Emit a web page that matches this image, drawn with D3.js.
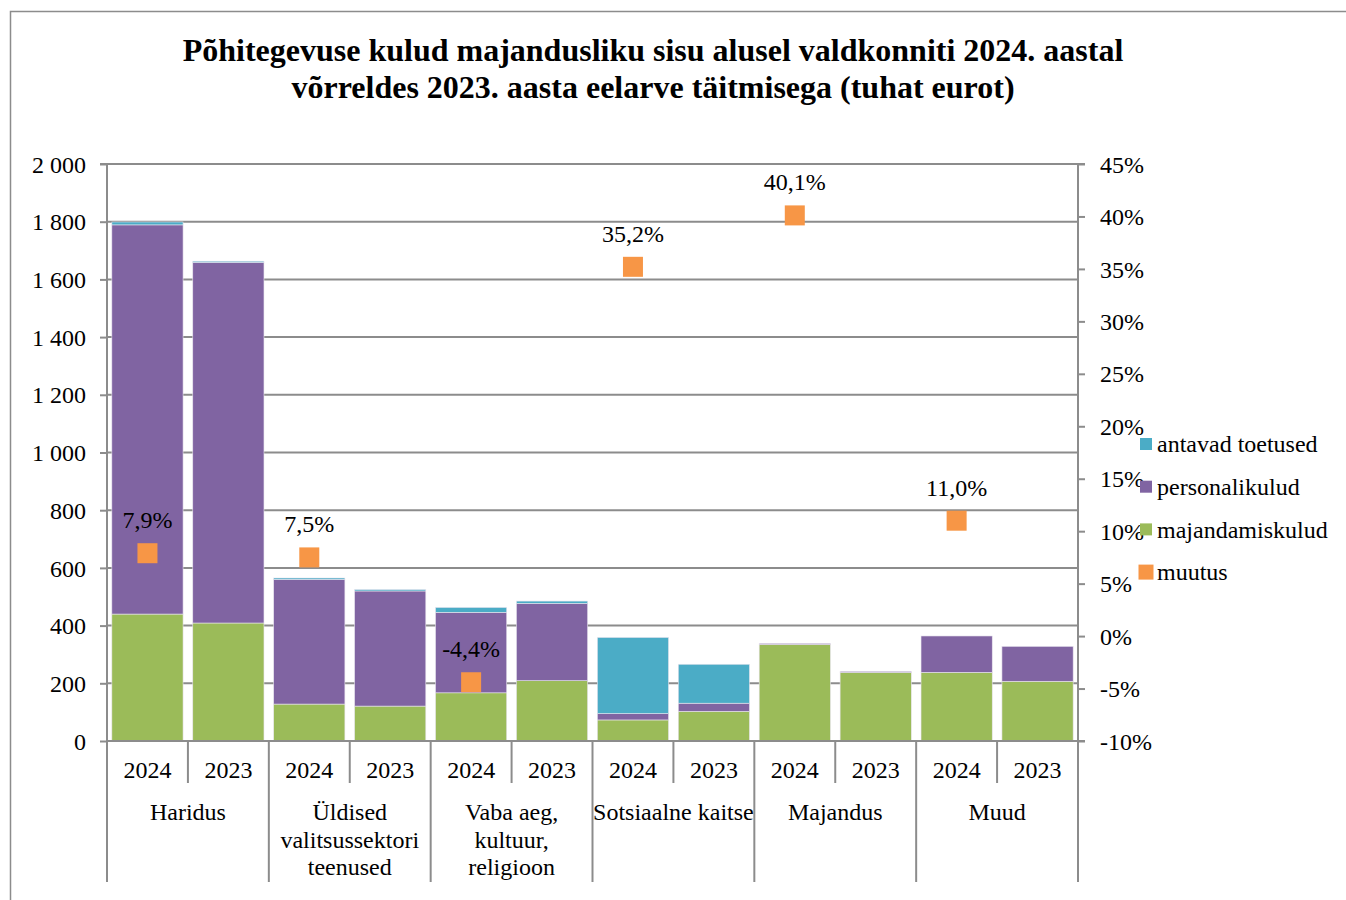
<!DOCTYPE html>
<html><head><meta charset="utf-8">
<script src="https://cdn.jsdelivr.net/npm/d3@7"></script>
<style>body{margin:0;background:#fff}svg{display:block}text{font-family:"Liberation Serif","Times New Roman",serif;fill:#000}</style>
</head><body><svg id="c" width="1346" height="900"></svg>
<script>
const groups = ["Haridus","Üldised valitsussektori teenused","Vaba aeg, kultuur, religioon","Sotsiaalne kaitse","Majandus","Muud"];
const groupLines = [["Haridus"],["Üldised","valitsussektori","teenused"],["Vaba aeg,","kultuur,","religioon"],["Sotsiaalne kaitse"],["Majandus"],["Muud"]];
const years = ["2024","2023"];
// order: per group [2024, 2023]
const majandamiskulud = [440,409, 128,121, 167,209, 73,103, 335,238, 238,207];
const personalikulud  = [1349,1250, 432,399, 279,268, 22,28, 3,3, 126,121];
const antavadToetused = [10,4, 5,5, 17,8, 264,135, 0,0, 0,0];
const muutus = [7.9, 7.5, -4.4, 35.2, 40.1, 11.0];
const leftTicks = [0,200,400,600,800,1000,1200,1400,1600,1800,2000];
const rightTicks = [-10,-5,0,5,10,15,20,25,30,35,40,45];
const seriesNames = ["antavad toetused","personalikulud","majandamiskulud","muutus"];
const colors = {"majandamiskulud":"#9BBB59","personalikulud":"#8064A2","antavad toetused":"#4BACC6","muutus":"#F79646"};

const FS = 24;
const svg = d3.select("#c");
const L=107, R=1078, T=164, B=741;
// frame
svg.append("rect").attr("x",10.5).attr("y",11.5).attr("width",1345).attr("height",900).attr("fill","none").attr("stroke","#8c8c8c").attr("stroke-width",1.5);
// title
const title = svg.append("text").attr("text-anchor","middle").attr("font-weight","bold").attr("font-size",32);
title.append("tspan").attr("x",653).attr("y",61).text("Põhitegevuse kulud majandusliku sisu alusel valdkonniti 2024. aastal");
title.append("tspan").attr("x",653).attr("y",98).text("võrreldes 2023. aasta eelarve täitmisega (tuhat eurot)");

const bars = [];
groups.forEach((g,gi)=>years.forEach((yr,yi)=>bars.push({g,gi,yr,i:gi*2+yi})));
const x = d3.scaleBand().domain(bars.map(d=>d.i)).range([L,R]).paddingInner(0.12).paddingOuter(0.06);
const xg = d3.scaleBand().domain(groups).range([L,R]);
const y = d3.scaleLinear().domain([0,2000]).range([B,T]);
const y2 = d3.scaleLinear().domain([-10,45]).range([B,T]);

// gridlines
svg.append("g").selectAll("line").data(leftTicks.slice(1)).join("line")
  .attr("x1",L).attr("x2",R).attr("y1",d=>y(d)).attr("y2",d=>y(d)).attr("stroke","#8c8c8c").attr("stroke-width",2);

// stacked bars
const stackData = bars.map(d=>({i:d.i,"majandamiskulud":majandamiskulud[d.i],"personalikulud":personalikulud[d.i],"antavad toetused":antavadToetused[d.i]}));
const stack = d3.stack().keys(["majandamiskulud","personalikulud","antavad toetused"])(stackData);
svg.append("g").selectAll("g").data(stack).join("g").attr("fill",s=>colors[s.key])
  .selectAll("rect").data(s=>s).join("rect")
  .attr("x",d=>x(d.data.i)).attr("width",x.bandwidth())
  .attr("y",d=>y(d[1])).attr("height",d=>Math.max(0,y(d[0])-y(d[1])))
  .attr("stroke","#e8e4ee").attr("stroke-width",0.6);

// left axis
const la = svg.append("g").attr("transform",`translate(${L},0)`)
  .call(d3.axisLeft(y).tickValues(leftTicks).tickSize(7).tickPadding(14).tickFormat(d=>d3.format(",")(d).replace(/,/g," ")));
la.select(".domain").attr("stroke","#8c8c8c").attr("stroke-width",2).attr("d",`M-7,${T}H0V${B}`);
la.selectAll(".tick line").attr("stroke","#8c8c8c").attr("stroke-width",2);
la.selectAll(".tick text").attr("font-size",FS).attr("font-family","Liberation Serif, serif").attr("fill","#000").attr("dy","0.34em");

// right axis
const ra = svg.append("g").attr("transform",`translate(${R},0)`)
  .call(d3.axisRight(y2).tickValues(rightTicks).tickSize(7).tickPadding(15).tickFormat(d=>String(d)+"%"));
ra.select(".domain").attr("stroke","#8c8c8c").attr("stroke-width",2).attr("d",`M7,${T}H0V${B}H7`);
ra.selectAll(".tick line").attr("stroke","#8c8c8c").attr("stroke-width",2);
ra.selectAll(".tick text").attr("font-size",FS).attr("font-family","Liberation Serif, serif").attr("fill","#000").attr("dy","0.34em");

// bottom baseline
svg.append("line").attr("x1",L).attr("x2",R).attr("y1",B).attr("y2",B).attr("stroke","#8c8c8c").attr("stroke-width",2);
// separators
const sepG = svg.append("g").attr("stroke","#8c8c8c").attr("stroke-width",2);
d3.range(13).forEach(k=>{
  const xx = L + k*(R-L)/12;
  const long = k%2===0;
  sepG.append("line").attr("x1",xx).attr("x2",xx).attr("y1",B).attr("y2",long?882:783);
});
// year labels
svg.append("g").selectAll("text").data(bars).join("text")
  .attr("x",d=>x(d.i)+x.bandwidth()/2).attr("y",778).attr("text-anchor","middle").attr("font-size",FS).text(d=>d.yr);
// group labels
const gl = svg.append("g").selectAll("text").data(groups).join("text")
  .attr("text-anchor","middle").attr("font-size",FS);
gl.each(function(g,gi){
  const t=d3.select(this);
  groupLines[gi].forEach((ln,li)=>t.append("tspan").attr("x",xg(g)+xg.bandwidth()/2).attr("y",820+li*27.5).text(ln));
});

// muutus markers
const mk = svg.append("g");
muutus.forEach((v,gi)=>{
  const cx = x(gi*2)+x.bandwidth()/2, cy = y2(v);
  mk.append("rect").attr("x",cx-10).attr("y",cy-10).attr("width",20).attr("height",20).attr("fill",colors["muutus"]);
  mk.append("text").attr("x",cx).attr("y",cy-25).attr("text-anchor","middle").attr("font-size",FS).text(v.toFixed(1).replace(".",",")+"%");
});

// legend
const lg = svg.append("g");
seriesNames.forEach((n,k)=>{
  const yy = 444 + k*42.7;
  const s = n==="muutus"?15:12;
  lg.append("rect").attr("x",1146-s/2).attr("y",yy-s/2).attr("width",s).attr("height",s).attr("fill",colors[n]);
  lg.append("text").attr("x",1157).attr("y",yy).attr("dy","0.34em").attr("font-size",FS).text(n);
});
</script></body></html>
